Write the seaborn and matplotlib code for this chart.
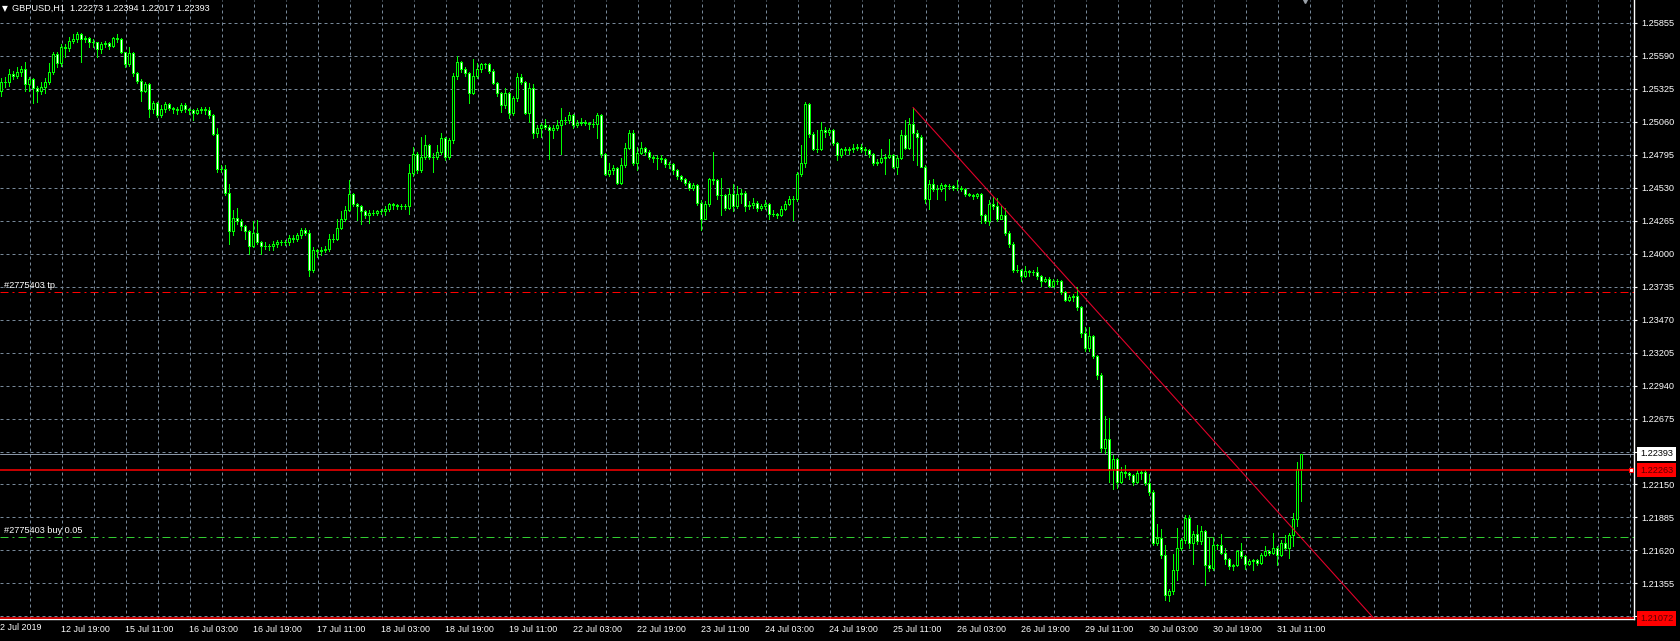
import numpy as np
import pandas as pd
import matplotlib
matplotlib.use("Agg")
import matplotlib.pyplot as plt
import seaborn as sns

# GBPUSD H1 bars from 12 Jul 04:00 to 31 Jul 17:00
opens = [
    1.2531, 1.2538, 1.2538, 1.2544, 1.2543, 1.2546, 1.2548, 1.2536, 1.2540, 1.2533,
    1.2531, 1.2534, 1.2538, 1.2546, 1.2560, 1.2553, 1.2566, 1.2565, 1.2571, 1.2572,
    1.2576, 1.2572, 1.2573, 1.2570, 1.2570, 1.2564, 1.2568, 1.2569, 1.2567, 1.2573,
    1.2572, 1.2562, 1.2552, 1.2561, 1.2545, 1.2539, 1.2531, 1.2536, 1.2516, 1.2521,
    1.2511, 1.2516, 1.2520, 1.2517, 1.2516, 1.2515, 1.2519, 1.2516, 1.2515, 1.2513,
    1.2515, 1.2516, 1.2515, 1.2511, 1.2496, 1.2468, 1.2468, 1.2449, 1.2418, 1.2429,
    1.2426, 1.2422, 1.2418, 1.2406, 1.2417, 1.2409, 1.2406, 1.2406, 1.2406, 1.2408,
    1.2409, 1.2409, 1.2409, 1.2413, 1.2412, 1.2415, 1.2419, 1.2417, 1.2387, 1.2403,
    1.2402, 1.2403, 1.2404, 1.2412, 1.2412, 1.2421, 1.2428, 1.2435, 1.2448, 1.2440,
    1.2438, 1.2434, 1.2431, 1.2433, 1.2433, 1.2434, 1.2434, 1.2436, 1.2440, 1.2439,
    1.2438, 1.2438, 1.2438, 1.2465, 1.2480, 1.2467, 1.2478, 1.2487, 1.2478, 1.2478,
    1.2482, 1.2493, 1.2478, 1.2491, 1.2543, 1.2554, 1.2548, 1.2545, 1.2529, 1.2543,
    1.2548, 1.2552, 1.2552, 1.2547, 1.2537, 1.2529, 1.2519, 1.2529, 1.2513, 1.2525,
    1.2542, 1.2538, 1.2513, 1.2533, 1.2497, 1.2501, 1.2503, 1.2502, 1.2499, 1.2501,
    1.2503, 1.2507, 1.2507, 1.2511, 1.2503, 1.2505, 1.2506, 1.2505, 1.2504, 1.2504,
    1.2511, 1.2480, 1.2464, 1.2467, 1.2469, 1.2457, 1.2471, 1.2485, 1.2497, 1.2473,
    1.2481, 1.2485, 1.2482, 1.2478, 1.2477, 1.2477, 1.2476, 1.2472, 1.2472, 1.2467,
    1.2462, 1.2460, 1.2457, 1.2453, 1.2455, 1.2441, 1.2428, 1.2440, 1.2460, 1.2459,
    1.2447, 1.2447, 1.2437, 1.2448, 1.2438, 1.2448, 1.2449, 1.2438, 1.2439, 1.2441,
    1.2437, 1.2438, 1.2440, 1.2432, 1.2432, 1.2431, 1.2436, 1.2440, 1.2444, 1.2444,
    1.2464, 1.2473, 1.2520, 1.2496, 1.2484, 1.2484, 1.2499, 1.2498, 1.2499, 1.2489,
    1.2479, 1.2484, 1.2483, 1.2484, 1.2485, 1.2486, 1.2484, 1.2483, 1.2480, 1.2473,
    1.2474, 1.2477, 1.2478, 1.2479, 1.2470, 1.2477, 1.2495, 1.2485, 1.2504, 1.2497,
    1.2494, 1.2470, 1.2444, 1.2456, 1.2452, 1.2452, 1.2455, 1.2454, 1.2454, 1.2453,
    1.2453, 1.2452, 1.2448, 1.2447, 1.2446, 1.2448, 1.2431, 1.2426, 1.2440, 1.2438,
    1.2428, 1.2431, 1.2417, 1.2408, 1.2387, 1.2387, 1.2382, 1.2386, 1.2385, 1.2385,
    1.2382, 1.2378, 1.2380, 1.2374, 1.2378, 1.2378, 1.2369, 1.2363, 1.2365, 1.2366,
    1.2357, 1.2336, 1.2324, 1.2334, 1.2318, 1.2303, 1.2244, 1.2251, 1.2227, 1.2235,
    1.2217, 1.2225, 1.2224, 1.2222, 1.2217, 1.2224, 1.2225, 1.2216, 1.2209, 1.2168,
    1.2172, 1.2158, 1.2126, 1.2129, 1.2146, 1.2164, 1.2170, 1.2188, 1.2168, 1.2175,
    1.2169, 1.2177, 1.2150, 1.2148, 1.2166, 1.2166, 1.2160, 1.2155, 1.2149, 1.2150,
    1.2161, 1.2157, 1.2151, 1.2153, 1.2154, 1.2152, 1.2158, 1.2161, 1.2160, 1.2164,
    1.2158, 1.2168, 1.2164, 1.2174, 1.2187, 1.22273,
]
highs = [
    1.2541, 1.2542, 1.2548, 1.2547, 1.2550, 1.2551, 1.2554, 1.2542, 1.2541, 1.2535,
    1.2538, 1.2541, 1.2553, 1.2562, 1.2562, 1.2568, 1.2568, 1.2574, 1.2576, 1.2578,
    1.2577, 1.2575, 1.2574, 1.2572, 1.2570, 1.2570, 1.2571, 1.2570, 1.2574, 1.2576,
    1.2573, 1.2562, 1.2566, 1.2562, 1.2546, 1.2540, 1.2538, 1.2537, 1.2523, 1.2522,
    1.2519, 1.2522, 1.2521, 1.2518, 1.2518, 1.2521, 1.2521, 1.2517, 1.2516, 1.2517,
    1.2518, 1.2518, 1.2518, 1.2512, 1.2501, 1.2471, 1.2471, 1.2456, 1.2435, 1.2437,
    1.2428, 1.2423, 1.2419, 1.2426, 1.2427, 1.2410, 1.2409, 1.2408, 1.2410, 1.2411,
    1.2411, 1.2411, 1.2415, 1.2415, 1.2417, 1.2421, 1.2421, 1.2419, 1.2405, 1.2404,
    1.2405, 1.2406, 1.2416, 1.2416, 1.2428, 1.2434, 1.2438, 1.2459, 1.2449, 1.2441,
    1.2439, 1.2435, 1.2435, 1.2435, 1.2435, 1.2436, 1.2438, 1.2441, 1.2441, 1.2440,
    1.2440, 1.2440, 1.2472, 1.2486, 1.2482, 1.2494, 1.2495, 1.2488, 1.2481, 1.2487,
    1.2497, 1.2494, 1.2493, 1.2545, 1.2559, 1.2555, 1.2550, 1.2546, 1.2556, 1.2553,
    1.2553, 1.2553, 1.2553, 1.2548, 1.2538, 1.2530, 1.2533, 1.2530, 1.2527, 1.2545,
    1.2544, 1.2539, 1.2537, 1.2536, 1.2503, 1.2505, 1.2508, 1.2503, 1.2503, 1.2507,
    1.2517, 1.2510, 1.2514, 1.2512, 1.2507, 1.2509, 1.2507, 1.2506, 1.2508, 1.2513,
    1.2512, 1.2481, 1.2473, 1.2471, 1.2470, 1.2477, 1.2489, 1.2499, 1.2499, 1.2486,
    1.2490, 1.2486, 1.2483, 1.2479, 1.2479, 1.2479, 1.2477, 1.2474, 1.2473, 1.2468,
    1.2463, 1.2461, 1.2458, 1.2457, 1.2456, 1.2443, 1.2442, 1.2461, 1.2482, 1.2460,
    1.2461, 1.2448, 1.2453, 1.2456, 1.2454, 1.2452, 1.2450, 1.2442, 1.2445, 1.2442,
    1.2440, 1.2443, 1.2441, 1.2435, 1.2433, 1.2438, 1.2442, 1.2446, 1.2446, 1.2466,
    1.2487, 1.2522, 1.2521, 1.2498, 1.2499, 1.2506, 1.2502, 1.2501, 1.2500, 1.2490,
    1.2485, 1.2486, 1.2486, 1.2488, 1.2488, 1.2488, 1.2486, 1.2484, 1.2481, 1.2476,
    1.2484, 1.2480, 1.2492, 1.2480, 1.2479, 1.2499, 1.2507, 1.2509, 1.2517, 1.2499,
    1.2495, 1.2471, 1.2459, 1.2460, 1.2455, 1.2457, 1.2456, 1.2456, 1.2455, 1.2459,
    1.2454, 1.2453, 1.2449, 1.2448, 1.2449, 1.2449, 1.2432, 1.2443, 1.2446, 1.2445,
    1.2438, 1.2437, 1.2418, 1.2409, 1.2391, 1.2388, 1.2390, 1.2387, 1.2387, 1.2389,
    1.2383, 1.2381, 1.2381, 1.2380, 1.2380, 1.2379, 1.2370, 1.2367, 1.2368, 1.2373,
    1.2358, 1.2341, 1.2341, 1.2335, 1.2319, 1.2304, 1.2270, 1.2268, 1.2238, 1.2236,
    1.2229, 1.2230, 1.2225, 1.2223, 1.2226, 1.2226, 1.2226, 1.2223, 1.2210, 1.2183,
    1.2179, 1.2166, 1.2131, 1.2159, 1.2180, 1.2172, 1.2190, 1.2190, 1.2177, 1.2182,
    1.2181, 1.2178, 1.2172, 1.2172, 1.2167, 1.2175, 1.2164, 1.2156, 1.2151, 1.2162,
    1.2168, 1.2158, 1.2155, 1.2155, 1.2155, 1.2160, 1.2165, 1.2162, 1.2176, 1.2165,
    1.2170, 1.2174, 1.2176, 1.2192, 1.2233, 1.22394,
]
lows = [
    1.2527, 1.2534, 1.2535, 1.2540, 1.2541, 1.2543, 1.2531, 1.2531, 1.2521, 1.2522,
    1.2528, 1.2529, 1.2536, 1.2544, 1.2550, 1.2551, 1.2558, 1.2563, 1.2569, 1.2570,
    1.2554, 1.2570, 1.2566, 1.2566, 1.2558, 1.2561, 1.2566, 1.2564, 1.2566, 1.2570,
    1.2561, 1.2550, 1.2551, 1.2543, 1.2537, 1.2523, 1.2530, 1.2510, 1.2513, 1.2510,
    1.2510, 1.2514, 1.2515, 1.2513, 1.2512, 1.2514, 1.2514, 1.2512, 1.2507, 1.2512,
    1.2513, 1.2512, 1.2509, 1.2495, 1.2466, 1.2466, 1.2447, 1.2408, 1.2415, 1.2424,
    1.2419, 1.2412, 1.2400, 1.2405, 1.2408, 1.2400, 1.2404, 1.2403, 1.2403, 1.2405,
    1.2407, 1.2407, 1.2407, 1.2409, 1.2410, 1.2413, 1.2415, 1.2382, 1.2385, 1.2397,
    1.2399, 1.2401, 1.2402, 1.2409, 1.2411, 1.2420, 1.2426, 1.2434, 1.2438, 1.2427,
    1.2424, 1.2429, 1.2425, 1.2431, 1.2431, 1.2432, 1.2431, 1.2434, 1.2436, 1.2436,
    1.2436, 1.2436, 1.2432, 1.2462, 1.2465, 1.2466, 1.2476, 1.2476, 1.2466, 1.2476,
    1.2480, 1.2475, 1.2476, 1.2489, 1.2540, 1.2546, 1.2543, 1.2521, 1.2528, 1.2541,
    1.2546, 1.2549, 1.2545, 1.2536, 1.2527, 1.2514, 1.2517, 1.2509, 1.2511, 1.2523,
    1.2536, 1.2512, 1.2506, 1.2493, 1.2494, 1.2494, 1.2500, 1.2476, 1.2493, 1.2499,
    1.2480, 1.2504, 1.2505, 1.2501, 1.2502, 1.2503, 1.2503, 1.2500, 1.2502, 1.2493,
    1.2478, 1.2463, 1.2462, 1.2464, 1.2456, 1.2456, 1.2470, 1.2484, 1.2471, 1.2467,
    1.2480, 1.2479, 1.2476, 1.2474, 1.2468, 1.2474, 1.2470, 1.2469, 1.2464, 1.2460,
    1.2458, 1.2455, 1.2451, 1.2451, 1.2439, 1.2419, 1.2428, 1.2438, 1.2456, 1.2444,
    1.2431, 1.2435, 1.2436, 1.2434, 1.2437, 1.2441, 1.2434, 1.2436, 1.2437, 1.2434,
    1.2435, 1.2436, 1.2428, 1.2430, 1.2429, 1.2430, 1.2435, 1.2439, 1.2427, 1.2442,
    1.2462, 1.2470, 1.2494, 1.2483, 1.2482, 1.2483, 1.2494, 1.2495, 1.2487, 1.2475,
    1.2478, 1.2480, 1.2480, 1.2482, 1.2483, 1.2482, 1.2480, 1.2478, 1.2471, 1.2471,
    1.2473, 1.2464, 1.2477, 1.2469, 1.2464, 1.2476, 1.2484, 1.2484, 1.2475, 1.2471,
    1.2470, 1.2441, 1.2436, 1.2450, 1.2444, 1.2450, 1.2443, 1.2452, 1.2451, 1.2451,
    1.2450, 1.2446, 1.2446, 1.2444, 1.2445, 1.2425, 1.2425, 1.2423, 1.2436, 1.2426,
    1.2428, 1.2415, 1.2405, 1.2385, 1.2385, 1.2378, 1.2381, 1.2382, 1.2383, 1.2380,
    1.2374, 1.2377, 1.2373, 1.2373, 1.2376, 1.2368, 1.2362, 1.2362, 1.2362, 1.2355,
    1.2333, 1.2322, 1.2322, 1.2316, 1.2299, 1.2241, 1.2240, 1.2217, 1.2211, 1.2212,
    1.2216, 1.2221, 1.2219, 1.2214, 1.2216, 1.2219, 1.2214, 1.2206, 1.2166, 1.2166,
    1.2156, 1.2122, 1.2121, 1.2127, 1.2138, 1.2162, 1.2168, 1.2164, 1.2151, 1.2167,
    1.2167, 1.2134, 1.2145, 1.2146, 1.2163, 1.2159, 1.2151, 1.2147, 1.2146, 1.2149,
    1.2156, 1.2147, 1.2150, 1.2146, 1.2150, 1.2151, 1.2157, 1.2158, 1.2159, 1.2150,
    1.2157, 1.2163, 1.2156, 1.2165, 1.2181, 1.22017,
]
closes = [
    1.2538, 1.2538, 1.2544, 1.2543, 1.2546, 1.2548, 1.2536, 1.2540, 1.2533, 1.2531,
    1.2534, 1.2538, 1.2546, 1.2560, 1.2553, 1.2566, 1.2565, 1.2571, 1.2572, 1.2576,
    1.2572, 1.2573, 1.2570, 1.2570, 1.2564, 1.2568, 1.2569, 1.2567, 1.2573, 1.2572,
    1.2562, 1.2552, 1.2561, 1.2545, 1.2539, 1.2531, 1.2536, 1.2516, 1.2521, 1.2511,
    1.2516, 1.2520, 1.2517, 1.2516, 1.2515, 1.2519, 1.2516, 1.2515, 1.2513, 1.2515,
    1.2516, 1.2515, 1.2511, 1.2496, 1.2468, 1.2468, 1.2449, 1.2418, 1.2429, 1.2426,
    1.2422, 1.2418, 1.2406, 1.2417, 1.2409, 1.2406, 1.2406, 1.2406, 1.2408, 1.2409,
    1.2409, 1.2409, 1.2413, 1.2412, 1.2415, 1.2419, 1.2417, 1.2387, 1.2403, 1.2402,
    1.2403, 1.2404, 1.2412, 1.2412, 1.2421, 1.2428, 1.2435, 1.2448, 1.2440, 1.2438,
    1.2434, 1.2431, 1.2433, 1.2433, 1.2434, 1.2434, 1.2436, 1.2440, 1.2439, 1.2438,
    1.2438, 1.2438, 1.2465, 1.2480, 1.2467, 1.2478, 1.2487, 1.2478, 1.2478, 1.2482,
    1.2493, 1.2478, 1.2491, 1.2543, 1.2554, 1.2548, 1.2545, 1.2529, 1.2543, 1.2548,
    1.2552, 1.2552, 1.2547, 1.2537, 1.2529, 1.2519, 1.2529, 1.2513, 1.2525, 1.2542,
    1.2538, 1.2513, 1.2533, 1.2497, 1.2501, 1.2503, 1.2502, 1.2499, 1.2501, 1.2503,
    1.2507, 1.2507, 1.2511, 1.2503, 1.2505, 1.2506, 1.2505, 1.2504, 1.2504, 1.2511,
    1.2480, 1.2464, 1.2467, 1.2469, 1.2457, 1.2471, 1.2485, 1.2497, 1.2473, 1.2481,
    1.2485, 1.2482, 1.2478, 1.2477, 1.2477, 1.2476, 1.2472, 1.2472, 1.2467, 1.2462,
    1.2460, 1.2457, 1.2453, 1.2455, 1.2441, 1.2428, 1.2440, 1.2460, 1.2459, 1.2447,
    1.2447, 1.2437, 1.2448, 1.2438, 1.2448, 1.2449, 1.2438, 1.2439, 1.2441, 1.2437,
    1.2438, 1.2440, 1.2432, 1.2432, 1.2431, 1.2436, 1.2440, 1.2444, 1.2444, 1.2464,
    1.2473, 1.2520, 1.2496, 1.2484, 1.2484, 1.2499, 1.2498, 1.2499, 1.2489, 1.2479,
    1.2484, 1.2483, 1.2484, 1.2485, 1.2486, 1.2484, 1.2483, 1.2480, 1.2473, 1.2474,
    1.2477, 1.2478, 1.2479, 1.2470, 1.2477, 1.2495, 1.2485, 1.2504, 1.2497, 1.2494,
    1.2470, 1.2444, 1.2456, 1.2452, 1.2452, 1.2455, 1.2454, 1.2454, 1.2453, 1.2453,
    1.2452, 1.2448, 1.2447, 1.2446, 1.2448, 1.2431, 1.2426, 1.2440, 1.2438, 1.2428,
    1.2431, 1.2417, 1.2408, 1.2387, 1.2387, 1.2382, 1.2386, 1.2385, 1.2385, 1.2382,
    1.2378, 1.2380, 1.2374, 1.2378, 1.2378, 1.2369, 1.2363, 1.2365, 1.2366, 1.2357,
    1.2336, 1.2324, 1.2334, 1.2318, 1.2303, 1.2244, 1.2251, 1.2227, 1.2235, 1.2217,
    1.2225, 1.2224, 1.2222, 1.2217, 1.2224, 1.2225, 1.2216, 1.2209, 1.2168, 1.2172,
    1.2158, 1.2126, 1.2129, 1.2146, 1.2164, 1.2170, 1.2188, 1.2168, 1.2175, 1.2169,
    1.2177, 1.2150, 1.2148, 1.2166, 1.2166, 1.2160, 1.2155, 1.2149, 1.2150, 1.2161,
    1.2157, 1.2151, 1.2153, 1.2154, 1.2152, 1.2158, 1.2161, 1.2160, 1.2164, 1.2158,
    1.2168, 1.2164, 1.2174, 1.2187, 1.22273, 1.22393,
]

price_ticks = [1.25855, 1.25590, 1.25325, 1.25060, 1.24795, 1.24530, 1.24265,
               1.24000, 1.23735, 1.23470, 1.23205, 1.22940, 1.22675, 1.22410,
               1.22150, 1.21885, 1.21620, 1.21355, 1.21090]
price_labels = [f"{p:.5f}" for p in price_ticks]

time_labels = ["12 Jul 19:00", "15 Jul 11:00", "16 Jul 03:00", "16 Jul 19:00",
               "17 Jul 11:00", "18 Jul 03:00", "18 Jul 19:00", "19 Jul 11:00",
               "22 Jul 03:00", "22 Jul 19:00", "23 Jul 11:00", "24 Jul 03:00",
               "24 Jul 19:00", "25 Jul 11:00", "26 Jul 03:00", "26 Jul 19:00",
               "29 Jul 11:00", "30 Jul 03:00", "30 Jul 19:00", "31 Jul 11:00"]
first_label = "12 Jul 2019"

title = "GBPUSD,H1  1.22273 1.22394 1.22017 1.22393"
tp_price = 1.23693
buy_price = 1.21726
bid_price = 1.22393
hline_price = 1.22263
low_price = 1.21072
# trend line anchors (bar index, price): from the 25 Jul high down to the bottom edge
trend_bars = [229, 344.5]
trend_prices = [1.25175, 1.21062]

df = pd.DataFrame({"open": opens, "high": highs, "low": lows, "close": closes})
df["bar"] = np.arange(1, len(df) + 1)
df["bull"] = df["close"] >= df["open"]

sns.set_theme(style="dark", rc={"axes.facecolor": "black", "figure.facecolor": "black"})
plt.rcParams["font.family"] = ["Liberation Sans", "DejaVu Sans"]

GREEN = "#00ff00"
GRID = "#778899"
W, H = 1680, 641
PX = 0.72  # one pixel in points at 100 dpi

fig = plt.figure(figsize=(W / 100, H / 100), dpi=100)
ax = fig.add_axes([0, 1 - 619 / H, 1634 / W, 619 / H])
ax.set_facecolor("black")
ax.set_xlim(0.75, 409.25)
ax.set_ylim(1.21067, 1.26037)

# grid
for p in price_ticks:
    ax.axhline(p, color=GRID, lw=PX, ls=(0, (3, 3)), zorder=1)
for gx in np.arange(8.25, 410, 8):
    ax.axvline(gx, color=GRID, lw=PX, ls=(0, (3, 3)), zorder=1)

# candles
ax.vlines(df["bar"], df["low"], df["high"], color=GREEN, lw=PX,
          antialiased=False, zorder=3)
body_low = df[["open", "close"]].min(axis=1)
body_h = (df["close"] - df["open"]).abs()
ax.bar(df["bar"], body_h, bottom=body_low, width=0.42,
       color=np.where(df["bull"], "black", "white"), edgecolor=GREEN,
       linewidth=PX, antialiased=False, zorder=4)

# order lines and objects
ax.axhline(tp_price, color="#ff0000", lw=PX, ls=(0, (8, 4, 2, 4)), zorder=2)
ax.axhline(buy_price, color="#32cd32", lw=PX, ls=(0, (8, 4, 2, 4)), zorder=2)
ax.axhline(bid_price, color="#8a96a6", lw=PX, zorder=2)
ax.axhline(hline_price, color="#ff0000", lw=1.1, zorder=5)
ax.axhline(low_price, color="#ff0000", lw=1.1, zorder=5)
ax.plot(trend_bars, trend_prices, color="#e0002a", lw=0.8, zorder=5)
ax.plot([408.6], [hline_price], marker="s", ms=3.2, mfc="white", mec="#ff0000",
        mew=0.8, zorder=6, clip_on=False)
ax.plot([327], [1.26037], marker="v", ms=5, color="#9aa0a8", zorder=6, clip_on=False)

ax.annotate("#2775403 tp", xy=(0.0025, tp_price), xycoords=ax.get_yaxis_transform(),
            xytext=(0, 1.5), textcoords="offset points", color="white",
            fontsize=6.6, va="bottom", ha="left")
ax.annotate("#2775403 buy 0.05", xy=(0.0025, buy_price), xycoords=ax.get_yaxis_transform(),
            xytext=(0, 1.5), textcoords="offset points", color="white",
            fontsize=6.6, va="bottom", ha="left")

# axes
for s in ["left", "top"]:
    ax.spines[s].set_visible(False)
for s in ["right", "bottom"]:
    ax.spines[s].set_color("white")
    ax.spines[s].set_linewidth(1.0)

ax.yaxis.tick_right()
ax.set_yticks(price_ticks, price_labels)
ax.tick_params(axis="y", colors="white", labelcolor="white", length=2.5, width=0.8,
               pad=2.5, labelsize=6.6, direction="out")
ax.set_xticks(np.arange(16, 321, 16), time_labels)
ax.tick_params(axis="x", colors="white", labelcolor="white", length=2.5, width=0.8,
               pad=2.0, labelsize=6.4, direction="out")
for lab in ax.get_xticklabels():
    lab.set_horizontalalignment("left")
ax.text(-0.6, -0.0065, first_label, transform=ax.get_xaxis_transform(), color="white",
        fontsize=6.4, ha="left", va="top", clip_on=False)

# price labels on the scale
lab_kw = dict(transform=ax.get_yaxis_transform(), ha="left", va="center",
              fontsize=6.6, clip_on=False, zorder=10)
ax.text(1.0038, bid_price, f"{bid_price:.5f}", color="black",
        bbox=dict(boxstyle="square,pad=0.3", fc="white", ec="none"), **lab_kw)
ax.text(1.0038, hline_price, f"{hline_price:.5f}", color="#5a0000",
        bbox=dict(boxstyle="square,pad=0.3", fc="#ff0000", ec="none"), **lab_kw)
ax.text(1.0038, low_price, f"{low_price:.5f}", color="#5a0000",
        bbox=dict(boxstyle="square,pad=0.3", fc="#ff0000", ec="none"), **lab_kw)

fig.text(2 / W, 1 - 8.5 / H, "\u25bc", color="white", fontsize=5.5,
         family=["DejaVu Sans"], va="center", ha="left")
fig.text(12 / W, 1 - 8.5 / H, title, color="white", fontsize=6.6, va="center", ha="left")

fig.savefig("out.png", dpi=100, facecolor="black")
